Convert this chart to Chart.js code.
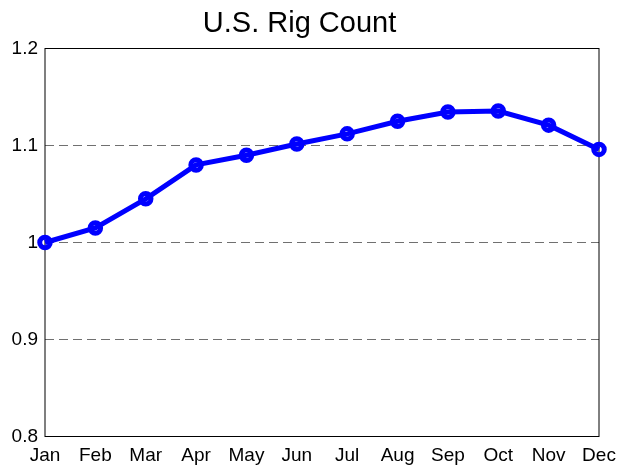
<!DOCTYPE html>
<html>
<head>
<meta charset="utf-8">
<script src="https://cdn.jsdelivr.net/npm/chart.js@4"></script>
<style>
  html, body { margin: 0; padding: 0; background: #fff; }
  #wrap { width: 621px; height: 475px; position: relative; }
</style>
</head>
<body>
<div id="wrap"><canvas id="c" width="621" height="475"></canvas></div>
<script>
const months = ["Jan","Feb","Mar","Apr","May","Jun","Jul","Aug","Sep","Oct","Nov","Dec"];
const rigCount = [1.000, 1.015, 1.045, 1.080, 1.090, 1.1015, 1.112, 1.125, 1.1345, 1.1355, 1.121, 1.096];
const yTicks = [0.8, 0.9, 1.0, 1.1, 1.2];
const yTickLabels = ["0.8", "0.9", "1", "1.1", "1.2"];
const chartTitle = "U.S. Rig Count";

const FONT = "'Liberation Sans', Arial, Helvetica, sans-serif";

const boxPlugin = {
  id: 'box',
  beforeDatasetsDraw(chart) {
    const a = chart.chartArea;
    const ctx = chart.ctx;
    ctx.save();
    ctx.strokeStyle = '#000';
    ctx.lineWidth = 1;
    ctx.strokeRect(a.left, a.top, a.right - a.left, a.bottom - a.top);
    ctx.restore();
  }
};

new Chart(document.getElementById('c'), {
  type: 'line',
  data: {
    labels: months,
    datasets: [{
      data: rigCount,
      borderColor: '#0000ff',
      borderWidth: 5,
      tension: 0,
      pointRadius: 5.25,
      pointBorderWidth: 5,
      pointBorderColor: '#0000ff',
      pointBackgroundColor: 'rgba(0,0,0,0)',
      pointHoverRadius: 5.25,
      clip: false
    }]
  },
  options: {
    responsive: false,
    animation: false,
    events: [],
    layout: { padding: { left: 0, right: 22, top: 0, bottom: 0 } },
    plugins: {
      legend: { display: false },
      tooltip: { enabled: false },
      title: {
        display: true,
        text: chartTitle,
        color: '#000',
        font: { family: FONT, size: 29, weight: 'normal', lineHeight: 1.2 },
        padding: { top: 7, bottom: 6.7 }
      }
    },
    scales: {
      x: {
        type: 'category',
        offset: false,
        grid: { display: false, drawTicks: false },
        border: { display: false },
        ticks: {
          autoSkip: false, maxRotation: 0, minRotation: 0,
          color: '#000', padding: 8,
          font: { family: FONT, size: 19 }
        },
        afterFit(s) { s.height = 38.5; s.paddingLeft = 0; s.paddingRight = 0; }
      },
      y: {
        min: 0.8, max: 1.2,
        afterBuildTicks(s) { s.ticks = yTicks.map(v => ({ value: v })); },
        grid: {
          drawTicks: false,
          color: ctx => (ctx.tick && (Math.abs(ctx.tick.value - 0.8) < 1e-9 || Math.abs(ctx.tick.value - 1.2) < 1e-9)) ? 'rgba(0,0,0,0)' : '#707070',
          lineWidth: 1
        },
        border: { display: false, dash: [9, 5] },
        ticks: {
          color: '#000', padding: 7,
          font: { family: FONT, size: 19 },
          callback(v) {
            const i = yTicks.findIndex(t => Math.abs(t - v) < 1e-9);
            return i >= 0 ? yTickLabels[i] : '';
          }
        },
        afterFit(s) { s.width = 45; }
      }
    }
  },
  plugins: [boxPlugin]
});
</script>
</body>
</html>
